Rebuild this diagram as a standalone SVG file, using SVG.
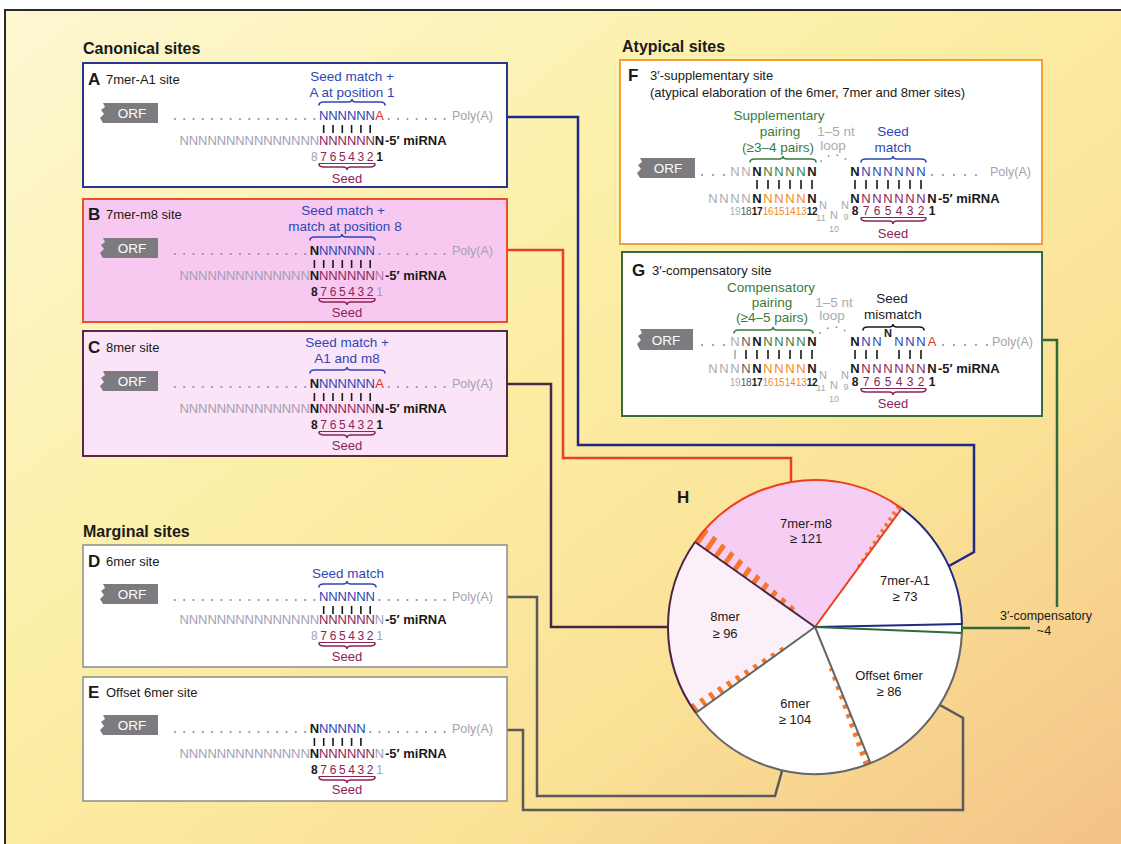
<svg xmlns="http://www.w3.org/2000/svg" width="1121" height="844" viewBox="0 0 1121 844">
<defs>
<linearGradient id="bg" x1="0" y1="0" x2="1" y2="1">
<stop offset="0" stop-color="#fdf7d2"/>
<stop offset="0.4" stop-color="#fcefa6"/>
<stop offset="0.7" stop-color="#fae196"/>
<stop offset="1" stop-color="#f3c085"/>
</linearGradient>
<clipPath id="h1"><polygon points="793.4,611.7 795.7,608.4 704.8,528.1 695,542"/></clipPath>
<clipPath id="h2"><polygon points="856.7,570.1 855.1,568.9 897,504.9 901.8,508.4"/></clipPath>
<clipPath id="h3"><polygon points="785.2,648.5 783.4,646.1 690,704.9 695.8,713"/></clipPath>
<clipPath id="h4"><polygon points="831.7,667.8 828.9,668.9 864,765.7 870.5,763.1"/></clipPath>
</defs>
<style>
text{font-family:"Liberation Sans",Arial,sans-serif}
.ttl{font-size:16px;font-weight:bold;fill:#1a1a1a}
.lbl{font-size:17px;font-weight:bold;fill:#1a1a1a}
.sub{font-size:13px;fill:#1a1a1a}
.hdr{font-size:13.5px;fill:#2e47b5;text-anchor:middle}
.N{font-size:13px;text-anchor:middle}
.M{font-size:13px;text-anchor:middle}
.b{fill:#2d44b0}
.r{fill:#e3321e}
.p{fill:#8b2457}
.g{fill:#a39eb4}
.k{fill:#1a1a1a;font-weight:bold}
.gn{fill:#3b7a3b}
.o{fill:#f28a1e}
.lg{fill:#ababab}
.dg{fill:#5a5a5a}
.num{font-size:12px;text-anchor:middle}
.sn{font-size:10px;text-anchor:middle;letter-spacing:-0.3px}
.lN{font-size:11px;fill:#a8a8a8;text-anchor:middle}
.ln{font-size:9px;fill:#a8a8a8;text-anchor:middle}
.dots{stroke:#8a93b8;stroke-width:2.2;stroke-linecap:round;fill:none}
.bar{stroke:#1a1a1a;stroke-width:1.6;fill:none}
.brace{fill:none;stroke-width:1.6;stroke-linecap:round}
.poly{font-size:12.5px;fill:#a3a3ab}
.orf{fill:#7c7c80}
.orft{font-size:13.5px;fill:#fff;text-anchor:middle}
.mi{font-size:13px;font-weight:bold;fill:#1a1a1a}
.conn{fill:none;stroke-width:2.5;stroke-linejoin:miter}
.pl{font-size:13px;fill:#1a1a1a;text-anchor:middle}
.ul{stroke:#8b2457;stroke-width:1}
.hatch{stroke:#f5782a;fill:none}
</style>
<rect width="1121" height="844" fill="#fff"/>
<rect x="5" y="10" width="1130" height="850" fill="url(#bg)" stroke="#2a2a2a" stroke-width="2"/>

<g id="connectors">
<path class="conn" stroke="#1f2a80" d="M507,117 H578 V445 H974 V552 L949,566"/>
<path class="conn" stroke="#e84020" d="M507,250 H563 V458 H791 V482"/>
<path class="conn" stroke="#4a2545" d="M507,384 H551 V627 H668"/>
<path class="conn" stroke="#5a5a5a" d="M507,597 H537 V796 H775 L782,771"/>
<path class="conn" stroke="#5a5a5a" d="M507,730 H523 V810 H963 V718 L940,705"/>
<path class="conn" stroke="#2f6a3a" d="M1042,340 H1057 V607"/>
<path class="conn" stroke="#2f6a3a" d="M962,628 H1030"/>
</g>

<text x="83" y="54" class="ttl">Canonical sites</text>
<text x="622" y="52" class="ttl">Atypical sites</text>
<text x="83" y="537" class="ttl">Marginal sites</text>

<g id="siteA">
<rect x="83" y="63" width="424" height="124" fill="#fff" stroke="#2a3590" stroke-width="2"/>
<g transform="translate(0,64)">
<text x="88" y="21" class="lbl">A</text><text x="106" y="20" class="sub">7mer-A1 site</text>
<text x="352" y="17" class="hdr">Seed match +</text>
<text x="352" y="33" class="hdr">A at position 1</text>
<path class="brace" stroke="#2e47b5" d="M319,41 Q319,38 324,38 L348,38 Q352,38 352,35 Q352,38 356,38 L380,38 Q385,38 385,41"/>
<path class="orf" d="M158,39 L103,39 L105,43 L101,46 L104,50 L100,54 L103,59 L158,59 Z"/>
<text x="132" y="54" class="orft">ORF</text>
<line class="dots" x1="174.9" y1="55" x2="315" y2="55" stroke-dasharray="0 9.3"/>
<line class="dots" x1="388.8" y1="55" x2="445" y2="55" stroke-dasharray="0 9.3"/>
<text x="452" y="56" class="poly">Poly(A)</text>
<text class="N b" x="323.7 333 342.3 351.6 360.9 370.2" y="56">NNNNNN</text>
<text class="N r" x="379.5" y="56">A</text>
<path class="bar" d="M323.7 61V69M333 61V69M342.3 61V69M351.6 61V69M360.9 61V69M370.2 61V69"/>
<text class="N g" x="184.2 193.5 202.8 212.1 221.4 230.7 240 249.3 258.6 267.9 277.2 286.5 295.8 305.1 314.4" y="81">NNNNNNNNNNNNNNN</text>
<text class="N p" x="323.7 333 342.3 351.6 360.9 370.2" y="81">NNNNNN</text>
<text class="N k" x="379.5" y="81">N</text>
<text class="mi" x="385" y="81">-5′ miRNA</text>
<text class="num g" x="314.4" y="97">8</text>
<text class="num p" x="323.7 333 342.3 351.6 360.9 370.2" y="97">765432</text>
<text class="num k" x="379.5" y="97">1</text>
<line class="ul" x1="319" y1="99.5" x2="375" y2="99.5"/>
<path class="brace" stroke="#8b2457" d="M319,100 Q319,103 324,103 L343,103 Q347,103 347,106 Q347,103 351,103 L370,103 Q375,103 375,100"/>
<text x="347" y="119" class="M p">Seed</text>
</g>
</g>

<g id="siteB">
<rect x="83" y="199" width="424" height="123" fill="#f7c9f1" stroke="#e5512b" stroke-width="2"/>
<g transform="translate(0,199)">
<text x="88" y="21" class="lbl">B</text><text x="106" y="20" class="sub">7mer-m8 site</text>
<text x="343" y="16" class="hdr">Seed match +</text>
<text x="345" y="32" class="hdr">match at position 8</text>
<path class="brace" stroke="#2e47b5" d="M310,41 Q310,38 315,38 L338,38 Q342,38 342,35 Q342,38 346,38 L370,38 Q375,38 375,41"/>
<path class="orf" d="M158,39 L103,39 L105,43 L101,46 L104,50 L100,54 L103,59 L158,59 Z"/>
<text x="132" y="54" class="orft">ORF</text>
<line class="dots" x1="174.9" y1="55" x2="306" y2="55" stroke-dasharray="0 9.3"/>
<line class="dots" x1="379.5" y1="55" x2="445" y2="55" stroke-dasharray="0 9.3"/>
<text x="452" y="56" class="poly">Poly(A)</text>
<text class="N k" x="314.4" y="56">N</text>
<text class="N b" x="323.7 333 342.3 351.6 360.9 370.2" y="56">NNNNNN</text>
<path class="bar" d="M314.4 61V69M323.7 61V69M333 61V69M342.3 61V69M351.6 61V69M360.9 61V69M370.2 61V69"/>
<text class="N g" x="184.2 193.5 202.8 212.1 221.4 230.7 240 249.3 258.6 267.9 277.2 286.5 295.8 305.1" y="81">NNNNNNNNNNNNNN</text>
<text class="N k" x="314.4" y="81">N</text>
<text class="N p" x="323.7 333 342.3 351.6 360.9 370.2" y="81">NNNNNN</text>
<text class="N" fill="#b07aa0" x="379.5" y="81">N</text>
<text class="mi" x="385" y="81">-5′ miRNA</text>
<text class="num k" x="314.4" y="97">8</text>
<text class="num p" x="323.7 333 342.3 351.6 360.9 370.2" y="97">765432</text>
<text class="num g" x="379.5" y="97">1</text>
<line class="ul" x1="319" y1="99.5" x2="375" y2="99.5"/>
<path class="brace" stroke="#8b2457" d="M319,100 Q319,103 324,103 L343,103 Q347,103 347,106 Q347,103 351,103 L370,103 Q375,103 375,100"/>
<text x="347" y="118" class="M p">Seed</text>
</g>
</g>

<g id="siteC">
<rect x="83" y="331" width="424" height="125" fill="#fbe4f7" stroke="#5a2848" stroke-width="2"/>
<g transform="translate(0,332)">
<text x="88" y="21" class="lbl">C</text><text x="106" y="20" class="sub">8mer site</text>
<text x="347" y="15" class="hdr">Seed match +</text>
<text x="347" y="31" class="hdr">A1 and m8</text>
<path class="brace" stroke="#2e47b5" d="M310,41 Q310,38 315,38 L343,38 Q347,38 347,35 Q347,38 351,38 L380,38 Q385,38 385,41"/>
<path class="orf" d="M158,39 L103,39 L105,43 L101,46 L104,50 L100,54 L103,59 L158,59 Z"/>
<text x="132" y="54" class="orft">ORF</text>
<line class="dots" x1="174.9" y1="55" x2="306" y2="55" stroke-dasharray="0 9.3"/>
<line class="dots" x1="388.8" y1="55" x2="445" y2="55" stroke-dasharray="0 9.3"/>
<text x="452" y="56" class="poly">Poly(A)</text>
<text class="N k" x="314.4" y="56">N</text>
<text class="N b" x="323.7 333 342.3 351.6 360.9 370.2" y="56">NNNNNN</text>
<text class="N r" x="379.5" y="56">A</text>
<path class="bar" d="M314.4 61V69M323.7 61V69M333 61V69M342.3 61V69M351.6 61V69M360.9 61V69M370.2 61V69"/>
<text class="N g" x="184.2 193.5 202.8 212.1 221.4 230.7 240 249.3 258.6 267.9 277.2 286.5 295.8 305.1" y="81">NNNNNNNNNNNNNN</text>
<text class="N k" x="314.4" y="81">N</text>
<text class="N p" x="323.7 333 342.3 351.6 360.9 370.2" y="81">NNNNNN</text>
<text class="N k" x="379.5" y="81">N</text>
<text class="mi" x="385" y="81">-5′ miRNA</text>
<text class="num k" x="314.4" y="97">8</text>
<text class="num p" x="323.7 333 342.3 351.6 360.9 370.2" y="97">765432</text>
<text class="num k" x="379.5" y="97">1</text>
<line class="ul" x1="319" y1="99.5" x2="375" y2="99.5"/>
<path class="brace" stroke="#8b2457" d="M319,100 Q319,103 324,103 L343,103 Q347,103 347,106 Q347,103 351,103 L370,103 Q375,103 375,100"/>
<text x="347" y="118" class="M p">Seed</text>
</g>
</g>

<g id="siteD">
<rect x="83" y="545" width="424" height="122" fill="#fff" stroke="#8c8c8c" stroke-width="1.5"/>
<g transform="translate(0,545)">
<text x="88" y="22" class="lbl">D</text><text x="106" y="21" class="sub">6mer site</text>
<text x="348" y="33" class="hdr">Seed match</text>
<path class="brace" stroke="#2e47b5" d="M319,42 Q319,39 324,39 L343,39 Q347,39 347,36 Q347,39 351,39 L371,39 Q376,39 376,42"/>
<path class="orf" d="M158,39 L103,39 L105,43 L101,46 L104,50 L100,54 L103,59 L158,59 Z"/>
<text x="132" y="54" class="orft">ORF</text>
<line class="dots" x1="174.9" y1="55" x2="315" y2="55" stroke-dasharray="0 9.3"/>
<line class="dots" x1="379.5" y1="55" x2="445" y2="55" stroke-dasharray="0 9.3"/>
<text x="452" y="56" class="poly">Poly(A)</text>
<text class="N b" x="323.7 333 342.3 351.6 360.9 370.2" y="56">NNNNNN</text>
<path class="bar" d="M323.7 61V69M333 61V69M342.3 61V69M351.6 61V69M360.9 61V69M370.2 61V69"/>
<text class="N g" x="184.2 193.5 202.8 212.1 221.4 230.7 240 249.3 258.6 267.9 277.2 286.5 295.8 305.1 314.4" y="79">NNNNNNNNNNNNNNN</text>
<text class="N p" x="323.7 333 342.3 351.6 360.9 370.2" y="79">NNNNNN</text>
<text class="N g" x="379.5" y="79">N</text>
<text class="mi" x="385" y="79">-5′ miRNA</text>
<text class="num g" x="314.4" y="95">8</text>
<text class="num p" x="323.7 333 342.3 351.6 360.9 370.2" y="95">765432</text>
<text class="num g" x="379.5" y="95">1</text>
<line class="ul" x1="319" y1="97.5" x2="375" y2="97.5"/>
<path class="brace" stroke="#8b2457" d="M319,98 Q319,101 324,101 L343,101 Q347,101 347,104 Q347,101 351,101 L370,101 Q375,101 375,98"/>
<text x="347" y="116" class="M p">Seed</text>
</g>
</g>

<g id="siteE">
<rect x="83" y="677" width="424" height="124" fill="#fff" stroke="#8c8c8c" stroke-width="1.5"/>
<g transform="translate(0,677)">
<text x="88" y="21" class="lbl">E</text><text x="106" y="20" class="sub">Offset 6mer site</text>
<path class="orf" d="M158,38 L103,38 L105,42 L101,45 L104,49 L100,53 L103,58 L158,58 Z"/>
<text x="132" y="53" class="orft">ORF</text>
<line class="dots" x1="174.9" y1="55" x2="306" y2="55" stroke-dasharray="0 9.3"/>
<line class="dots" x1="370.2" y1="55" x2="445" y2="55" stroke-dasharray="0 9.3"/>
<text x="452" y="56" class="poly">Poly(A)</text>
<text class="N k" x="314.4" y="56">N</text>
<text class="N b" x="323.7 333 342.3 351.6 360.9" y="56">NNNNN</text>
<path class="bar" d="M314.4 61V69M323.7 61V69M333 61V69M342.3 61V69M351.6 61V69M360.9 61V69"/>
<text class="N g" x="184.2 193.5 202.8 212.1 221.4 230.7 240 249.3 258.6 267.9 277.2 286.5 295.8 305.1" y="81">NNNNNNNNNNNNNN</text>
<text class="N k" x="314.4" y="81">N</text>
<text class="N p" x="323.7 333 342.3 351.6 360.9 370.2" y="81">NNNNNN</text>
<text class="N g" x="379.5" y="81">N</text>
<text class="mi" x="385" y="81">-5′ miRNA</text>
<text class="num k" x="314.4" y="97">8</text>
<text class="num p" x="323.7 333 342.3 351.6 360.9 370.2" y="97">765432</text>
<text class="num g" x="379.5" y="97">1</text>
<line class="ul" x1="319" y1="99.5" x2="375" y2="99.5"/>
<path class="brace" stroke="#8b2457" d="M319,100 Q319,103 324,103 L343,103 Q347,103 347,106 Q347,103 351,103 L370,103 Q375,103 375,100"/>
<text x="347" y="117" class="M p">Seed</text>
</g>
</g>

<g id="siteF">
<rect x="620" y="60" width="422" height="184" fill="#fff" stroke="#f2a03c" stroke-width="2"/>
<text x="628" y="81" class="lbl">F</text>
<text x="650" y="80" class="sub">3′-supplementary site</text>
<text x="650" y="97" class="sub">(atypical elaboration of the 6mer, 7mer and 8mer sites)</text>
<text x="779" y="120" class="hdr gn">Supplementary</text>
<text x="780" y="136" class="hdr gn">pairing</text>
<text x="778" y="152" class="hdr gn">(≥3–4 pairs)</text>
<path class="brace" stroke="#3b7a3b" d="M750,162 Q750,159 755,159 L779,159 Q783,159 783,156 Q783,159 787,159 L811,159 Q816,159 816,162"/>
<text x="836" y="136" class="hdr" style="fill:#ababab">1–5 nt</text>
<text x="833" y="150" class="hdr" style="fill:#ababab">loop</text>
<path d="M821,161 Q834,149 848,161" stroke="#9a9a9a" stroke-width="2" stroke-linecap="round" stroke-dasharray="0 9" fill="none"/>
<text x="893" y="136" class="hdr">Seed</text>
<text x="893" y="152" class="hdr">match</text>
<path class="brace" stroke="#2e47b5" d="M861,162 Q861,159 866,159 L889,159 Q893,159 893,156 Q893,159 897,159 L921,159 Q926,159 926,162"/>
<path class="orf" d="M695,158 L640,158 L642,162 L638,165 L641,169 L637,173 L640,178 L695,178 Z"/>
<text x="668" y="173" class="orft">ORF</text>
<line class="dots" x1="702" y1="175" x2="725" y2="175" stroke-dasharray="0 11"/>
<line class="dots" x1="932" y1="175" x2="977" y2="175" stroke-dasharray="0 11"/>
<text x="990" y="176" class="poly">Poly(A)</text>
<text class="M lg" x="735 746" y="176">NN</text>
<text class="M k" x="757" y="176">N</text>
<text class="M gn" x="768 779 790 801" y="176">NNNN</text>
<text class="M k" x="812" y="176">N</text>
<text class="M k" x="855" y="176">N</text>
<text class="M b" x="866 877 888 899 910 921" y="176">NNNNNN</text>
<path class="bar" d="M757 180V189M768 180V189M779 180V189M790 180V189M801 180V189M812 180V189M855 180V189M866 180V189M877 180V189M888 180V189M899 180V189M910 180V189M921 180V189"/>
<text class="M lg" x="713 724 735 746" y="203">NNNN</text>
<text class="M k" x="757" y="203">N</text>
<text class="M o" x="768 779 790 801" y="203">NNNN</text>
<text class="M k" x="812" y="203">N</text>
<text class="M k" x="855" y="203">N</text>
<text class="M p" x="866 877 888 899 910 921" y="203">NNNNNN</text>
<text class="M k" x="932" y="203">N</text>
<text class="mi" x="938" y="203">-5′ miRNA</text>
<text class="lN" x="823" y="209">N</text>
<text class="ln" x="821" y="221">11</text>
<text class="lN" x="834" y="219">N</text>
<text class="ln" x="834" y="232">10</text>
<text class="lN" x="845" y="209">N</text>
<text class="ln" x="846" y="220">9</text>
<text class="sn lg" x="735" y="215">19</text>
<text class="sn dg" x="746" y="215">18</text>
<text class="sn k" x="757" y="215">17</text>
<text class="sn o" x="768" y="215">16</text>
<text class="sn o" x="779" y="215">15</text>
<text class="sn o" x="790" y="215">14</text>
<text class="sn o" x="801" y="215">13</text>
<text class="sn k" x="812" y="215">12</text>
<text class="num k" x="855" y="215">8</text>
<text class="num p" x="866 877 888 899 910 921" y="215">765432</text>
<text class="num k" x="932" y="215">1</text>
<line class="ul" x1="861" y1="217.5" x2="926" y2="217.5"/>
<path class="brace" stroke="#8b2457" d="M861,218 Q861,221 866,221 L889,221 Q893,221 893,224 Q893,221 897,221 L921,221 Q926,221 926,218"/>
<text class="M p" x="893" y="238">Seed</text>
</g>

<g id="siteG">
<rect x="622" y="252" width="420" height="164" fill="#fff" stroke="#3a6a40" stroke-width="2"/>
<text x="632" y="276" class="lbl">G</text>
<text x="652" y="275" class="sub">3′-compensatory site</text>
<text x="771" y="292" class="hdr gn">Compensatory</text>
<text x="772" y="307" class="hdr gn">pairing</text>
<text x="772" y="322" class="hdr gn">(≥4–5 pairs)</text>
<path class="brace" stroke="#3b7a3b" d="M734,333 Q734,330 739,330 L769,330 Q773,330 773,327 Q773,330 777,330 L808,330 Q813,330 813,333"/>
<text x="834" y="307" class="hdr" style="fill:#ababab">1–5 nt</text>
<text x="832" y="320" class="hdr" style="fill:#ababab">loop</text>
<path d="M820,333 Q834,321 848,333" stroke="#9a9a9a" stroke-width="2" stroke-linecap="round" stroke-dasharray="0 9" fill="none"/>
<text x="892" y="303" class="hdr" style="fill:#1a1a1a">Seed</text>
<text x="893" y="319" class="hdr" style="fill:#1a1a1a">mismatch</text>
<path class="brace" stroke="#1a1a1a" d="M863,330 Q863,327 868,327 L889,327 Q893,327 893,324 Q893,327 897,327 L919,327 Q924,327 924,330"/>
<path class="orf" d="M693,329 L640,329 L642,333 L638,336 L641,340 L637,344 L640,350 L693,350 Z"/>
<text x="666" y="345" class="orft">ORF</text>
<line class="dots" x1="702" y1="345" x2="725" y2="345" stroke-dasharray="0 11"/>
<line class="dots" x1="943" y1="345" x2="988" y2="345" stroke-dasharray="0 11"/>
<text x="992" y="346" class="poly">Poly(A)</text>
<text class="M lg" x="735" y="346">N</text>
<text class="M dg" x="746" y="346">N</text>
<text class="M k" x="757" y="346">N</text>
<text class="M gn" x="768 779 790 801" y="346">NNNN</text>
<text class="M k" x="812" y="346">N</text>
<text class="M k" x="855" y="346">N</text>
<text class="M b" x="866 877" y="346">NN</text>
<text class="k" style="font-size:11px;text-anchor:middle" x="888" y="337">N</text>
<text class="M b" x="899 910 921" y="346">NNN</text>
<text class="M r" x="932" y="346">A</text>
<path class="bar" style="stroke:#ababab" d="M735 350V359"/>
<path class="bar" d="M746 350V359M757 350V359M768 350V359M779 350V359M790 350V359M801 350V359M812 350V359M855 350V359M866 350V359M877 350V359M899 350V359M910 350V359M921 350V359"/>
<text class="M lg" x="713 724 735" y="373">NNN</text>
<text class="M dg" x="746" y="373">N</text>
<text class="M k" x="757" y="373">N</text>
<text class="M o" x="768 779 790 801" y="373">NNNN</text>
<text class="M k" x="812" y="373">N</text>
<text class="M k" x="855" y="373">N</text>
<text class="M p" x="866 877 888 899 910 921" y="373">NNNNNN</text>
<text class="M k" x="932" y="373">N</text>
<text class="mi" x="938" y="373">-5′ miRNA</text>
<text class="lN" x="823" y="379">N</text>
<text class="ln" x="821" y="391">11</text>
<text class="lN" x="834" y="389">N</text>
<text class="ln" x="834" y="402">10</text>
<text class="lN" x="845" y="379">N</text>
<text class="ln" x="846" y="390">9</text>
<text class="sn lg" x="735" y="386">19</text>
<text class="sn dg" x="746" y="386">18</text>
<text class="sn k" x="757" y="386">17</text>
<text class="sn o" x="768" y="386">16</text>
<text class="sn o" x="779" y="386">15</text>
<text class="sn o" x="790" y="386">14</text>
<text class="sn o" x="801" y="386">13</text>
<text class="sn k" x="812" y="386">12</text>
<text class="num k" x="855" y="386">8</text>
<text class="num p" x="866 877 888 899 910 921" y="386">765432</text>
<text class="num k" x="932" y="386">1</text>
<line class="ul" x1="861" y1="388.5" x2="926" y2="388.5"/>
<path class="brace" stroke="#8b2457" d="M861,389 Q861,392 866,392 L889,392 Q893,392 893,395 Q893,392 897,392 L921,392 Q926,392 926,389"/>
<text class="M p" x="893" y="408">Seed</text>
</g>

<g id="pieH">
<path d="M815,627 L695,542 A147,147 0 0 1 901.8,508.4 Z" fill="#f6cdf3"/>
<path d="M815,627 L901.8,508.4 A147,147 0 0 1 962,623.9 Z" fill="#fff"/>
<path d="M815,627 L962,623.9 A147,147 0 0 1 961.9,632.9 Z" fill="#fff"/>
<path d="M815,627 L961.9,632.9 A147,147 0 0 1 870.5,763.1 Z" fill="#fff"/>
<path d="M815,627 L870.5,763.1 A147,147 0 0 1 695.8,713 Z" fill="#fff"/>
<path d="M815,627 L695.8,713 A147,147 0 0 1 695,542 Z" fill="#fbeffa"/>
<line class="hatch" clip-path="url(#h1)" x1="695" y1="542" x2="795" y2="612" stroke-width="38" stroke-dasharray="5 6.5"/>
<line class="hatch" clip-path="url(#h2)" x1="901.8" y1="508.4" x2="855" y2="572" stroke-width="16" stroke-dasharray="3 4"/>
<line class="hatch" clip-path="url(#h3)" x1="695.8" y1="713" x2="787" y2="647" stroke-width="24" stroke-dasharray="4 6.5"/>
<line class="hatch" clip-path="url(#h4)" x1="870.5" y1="763.1" x2="831" y2="666" stroke-width="18" stroke-dasharray="4 6"/>
<g fill="none" stroke-width="2">
<path d="M695,542 A147,147 0 0 1 901.8,508.4" stroke="#e84020"/>
<path d="M901.8,508.4 A147,147 0 0 1 962,623.9" stroke="#1f2a80"/>
<path d="M962,623.9 A147,147 0 0 1 961.9,632.9" stroke="#2f6a3a"/>
<path d="M961.9,632.9 A147,147 0 0 1 695.8,713" stroke="#666"/>
<path d="M695.8,713 A147,147 0 0 1 695,542" stroke="#4a2545"/>
<path d="M815,627 L901.8,508.4" stroke="#e84020"/>
<path d="M815,627 L962,623.9" stroke="#1f2a80"/>
<path d="M815,627 L961.9,632.9" stroke="#2f6a3a"/>
<path d="M815,627 L870.5,763.1" stroke="#666"/>
<path d="M815,627 L695.8,713" stroke="#666"/>
<path d="M815,627 L695,542" stroke="#4a2545"/>
</g>
<text x="677" y="503" class="lbl">H</text>
<text class="pl" x="806" y="528">7mer-m8</text>
<text class="pl" x="806" y="543">≥ 121</text>
<text class="pl" x="905" y="585">7mer-A1</text>
<text class="pl" x="905" y="601">≥ 73</text>
<text class="pl" x="725" y="621">8mer</text>
<text class="pl" x="725" y="638">≥ 96</text>
<text class="pl" x="889" y="680">Offset 6mer</text>
<text class="pl" x="889" y="696">≥ 86</text>
<text class="pl" x="795" y="708">6mer</text>
<text class="pl" x="795" y="724">≥ 104</text>
</g>

<g id="label-comp">
<text class="pl" x="1046" y="620" style="font-size:12.5px">3′-compensatory</text>
<text class="pl" x="1044" y="635" style="font-size:12.5px">~4</text>
</g>
</svg>
